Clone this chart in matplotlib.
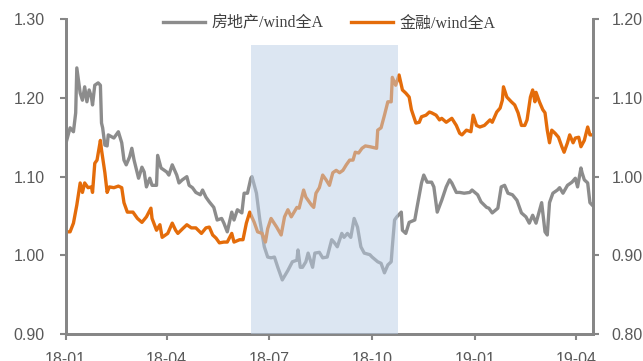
import matplotlib
matplotlib.use('Agg')
import matplotlib.pyplot as plt
import matplotlib.dates as mdates
import pandas as pd

# 房地产/wind全A (left axis)
re_dates = ['2018-01-02', '2018-01-05', '2018-01-08', '2018-01-10', '2018-01-11', '2018-01-14',
            '2018-01-16', '2018-01-18', '2018-01-20', '2018-01-22', '2018-01-24', '2018-01-25',
            '2018-01-27', '2018-01-30', '2018-02-01', '2018-02-02', '2018-02-03', '2018-02-05',
            '2018-02-07', '2018-02-08', '2018-02-13', '2018-02-17', '2018-02-20', '2018-02-22',
            '2018-02-24', '2018-02-27', '2018-03-01', '2018-03-03', '2018-03-07', '2018-03-10',
            '2018-03-12', '2018-03-14', '2018-03-17', '2018-03-19', '2018-03-23', '2018-03-24',
            '2018-03-27', '2018-04-01', '2018-04-03', '2018-04-06', '2018-04-10', '2018-04-12',
            '2018-04-15', '2018-04-19', '2018-04-21', '2018-04-24', '2018-04-27', '2018-05-01',
            '2018-05-03', '2018-05-06', '2018-05-09', '2018-05-13', '2018-05-16', '2018-05-20',
            '2018-05-22', '2018-05-25', '2018-05-29', '2018-05-31', '2018-06-03', '2018-06-07',
            '2018-06-09', '2018-06-12', '2018-06-15', '2018-06-16', '2018-06-20', '2018-06-23',
            '2018-06-27', '2018-06-30', '2018-07-03', '2018-07-06', '2018-07-09', '2018-07-13',
            '2018-07-18', '2018-07-22', '2018-07-26', '2018-07-27', '2018-07-29', '2018-07-31',
            '2018-08-03', '2018-08-05', '2018-08-09', '2018-08-11', '2018-08-15', '2018-08-18',
            '2018-08-22', '2018-08-26', '2018-08-28', '2018-08-31', '2018-09-04', '2018-09-06',
            '2018-09-09', '2018-09-12', '2018-09-15', '2018-09-18', '2018-09-21', '2018-09-24',
            '2018-09-29', '2018-10-01', '2018-10-06', '2018-10-09', '2018-10-12', '2018-10-15',
            '2018-10-18', '2018-10-19', '2018-10-21', '2018-10-23', '2018-10-27', '2018-10-28',
            '2018-10-31', '2018-11-03', '2018-11-08', '2018-11-10', '2018-11-14', '2018-11-16',
            '2018-11-19', '2018-11-23', '2018-11-25', '2018-11-28', '2018-12-02', '2018-12-06',
            '2018-12-09', '2018-12-11', '2018-12-15', '2018-12-18', '2018-12-22', '2018-12-27',
            '2018-12-29', '2019-01-03', '2019-01-06', '2019-01-11', '2019-01-13', '2019-01-16',
            '2019-01-21', '2019-01-24', '2019-01-27', '2019-01-30', '2019-02-03', '2019-02-07',
            '2019-02-11', '2019-02-15', '2019-02-18', '2019-02-21', '2019-02-24', '2019-03-01',
            '2019-03-04', '2019-03-06', '2019-03-08', '2019-03-11', '2019-03-15', '2019-03-17',
            '2019-03-20', '2019-03-24', '2019-03-28', '2019-03-31', '2019-04-02', '2019-04-05',
            '2019-04-06', '2019-04-08', '2019-04-11', '2019-04-13', '2019-04-15']
re_vals = [1.146, 1.162, 1.157, 1.181, 1.238, 1.206, 1.197, 1.214, 1.195, 1.210, 1.201, 1.191,
           1.216, 1.219, 1.216, 1.168, 1.162, 1.140, 1.139, 1.153, 1.149, 1.157, 1.143, 1.121,
           1.115, 1.125, 1.136, 1.121, 1.098, 1.112, 1.106, 1.087, 1.098, 1.089, 1.089, 1.127,
           1.111, 1.106, 1.102, 1.115, 1.102, 1.092, 1.096, 1.100, 1.089, 1.086, 1.080, 1.077,
           1.083, 1.074, 1.068, 1.061, 1.045, 1.047, 1.041, 1.030, 1.055, 1.045, 1.058, 1.054,
           1.079, 1.079, 1.098, 1.100, 1.079, 1.045, 1.011, 0.998, 0.997, 0.998, 0.985, 0.969,
           0.981, 0.992, 0.994, 1.007, 0.985, 0.985, 0.992, 1.003, 0.985, 1.003, 1.004, 0.997,
           0.998, 1.020, 1.017, 1.011, 1.028, 1.023, 1.028, 1.023, 1.047, 1.036, 1.011, 1.003,
           1.001, 0.998, 0.992, 0.990, 0.978, 0.988, 0.992, 1.011, 1.045, 1.049, 1.055, 1.032,
           1.028, 1.042, 1.045, 1.061, 1.092, 1.102, 1.093, 1.093, 1.087, 1.055, 1.070, 1.087,
           1.096, 1.092, 1.080, 1.080, 1.079, 1.080, 1.083, 1.077, 1.068, 1.061, 1.060, 1.054,
           1.060, 1.087, 1.089, 1.079, 1.077, 1.070, 1.054, 1.049, 1.041, 1.051, 1.041, 1.067,
           1.030, 1.026, 1.067, 1.079, 1.083, 1.086, 1.079, 1.089, 1.093, 1.098, 1.087, 1.111,
           1.105, 1.096, 1.092, 1.067, 1.064]

# 金融/wind全A (right axis)
fin_dates = ['2018-01-02', '2018-01-05', '2018-01-08', '2018-01-11', '2018-01-14', '2018-01-16',
             '2018-01-18', '2018-01-21', '2018-01-24', '2018-01-25', '2018-01-27', '2018-01-29',
             '2018-02-01', '2018-02-02', '2018-02-05', '2018-02-07', '2018-02-09', '2018-02-13',
             '2018-02-17', '2018-02-20', '2018-02-22', '2018-02-25', '2018-03-02', '2018-03-06',
             '2018-03-10', '2018-03-14', '2018-03-18', '2018-03-19', '2018-03-23', '2018-03-26',
             '2018-03-28', '2018-04-02', '2018-04-06', '2018-04-09', '2018-04-11', '2018-04-16',
             '2018-04-19', '2018-04-23', '2018-04-27', '2018-05-02', '2018-05-06', '2018-05-09',
             '2018-05-12', '2018-05-15', '2018-05-18', '2018-05-22', '2018-05-25', '2018-05-29',
             '2018-05-31', '2018-06-05', '2018-06-08', '2018-06-11', '2018-06-14', '2018-06-18',
             '2018-06-21', '2018-06-25', '2018-06-28', '2018-06-30', '2018-07-03', '2018-07-08',
             '2018-07-12', '2018-07-15', '2018-07-18', '2018-07-21', '2018-07-26', '2018-07-28',
             '2018-08-01', '2018-08-03', '2018-08-08', '2018-08-10', '2018-08-12', '2018-08-15',
             '2018-08-18', '2018-08-21', '2018-08-24', '2018-08-27', '2018-08-30', '2018-09-02',
             '2018-09-05', '2018-09-08', '2018-09-11', '2018-09-14', '2018-09-16', '2018-09-19',
             '2018-09-22', '2018-09-25', '2018-09-29', '2018-10-05', '2018-10-06', '2018-10-09',
             '2018-10-12', '2018-10-15', '2018-10-18', '2018-10-19', '2018-10-21', '2018-10-22',
             '2018-10-25', '2018-10-28', '2018-10-31', '2018-11-03', '2018-11-05', '2018-11-09',
             '2018-11-12', '2018-11-14', '2018-11-18', '2018-11-21', '2018-11-23', '2018-11-27',
             '2018-11-30', '2018-12-02', '2018-12-06', '2018-12-09', '2018-12-11', '2018-12-15',
             '2018-12-18', '2018-12-20', '2018-12-24', '2018-12-28', '2018-12-30', '2019-01-02',
             '2019-01-05', '2019-01-09', '2019-01-14', '2019-01-16', '2019-01-20', '2019-01-23',
             '2019-01-25', '2019-01-26', '2019-01-29', '2019-02-02', '2019-02-05', '2019-02-08',
             '2019-02-11', '2019-02-14', '2019-02-16', '2019-02-19', '2019-02-21', '2019-02-23',
             '2019-02-24', '2019-02-27', '2019-03-02', '2019-03-04', '2019-03-06', '2019-03-08',
             '2019-03-10', '2019-03-13', '2019-03-16', '2019-03-19', '2019-03-21', '2019-03-24',
             '2019-03-26', '2019-03-29', '2019-03-31', '2019-04-03', '2019-04-05', '2019-04-08',
             '2019-04-11', '2019-04-13', '2019-04-15']
fin_vals = [0.930, 0.930, 0.941, 0.964, 0.992, 0.980, 0.992, 0.986, 0.987, 0.980, 1.017, 1.021,
            1.046, 1.034, 1.005, 0.980, 0.987, 0.986, 0.988, 0.986, 0.967, 0.955, 0.955, 0.947,
            0.942, 0.949, 0.960, 0.947, 0.932, 0.939, 0.923, 0.928, 0.941, 0.932, 0.928, 0.935,
            0.939, 0.935, 0.935, 0.928, 0.935, 0.936, 0.926, 0.922, 0.916, 0.917, 0.917, 0.928,
            0.917, 0.920, 0.920, 0.941, 0.955, 0.942, 0.930, 0.928, 0.917, 0.934, 0.947, 0.936,
            0.926, 0.949, 0.958, 0.949, 0.961, 0.960, 0.983, 0.974, 0.964, 0.961, 0.979, 0.986,
            1.002, 0.996, 0.989, 1.005, 1.008, 1.005, 1.008, 1.015, 1.021, 1.021, 1.031, 1.030,
            1.036, 1.039, 1.038, 1.036, 1.059, 1.062, 1.078, 1.095, 1.095, 1.126, 1.119, 1.116,
            1.129, 1.110, 1.106, 1.101, 1.085, 1.068, 1.069, 1.076, 1.078, 1.082, 1.081, 1.078,
            1.072, 1.074, 1.069, 1.072, 1.074, 1.065, 1.055, 1.053, 1.059, 1.057, 1.078, 1.065,
            1.063, 1.065, 1.072, 1.069, 1.082, 1.087, 1.097, 1.114, 1.101, 1.095, 1.091, 1.081,
            1.065, 1.065, 1.072, 1.101, 1.110, 1.095, 1.107, 1.095, 1.085, 1.081, 1.059, 1.043,
            1.059, 1.055, 1.050, 1.038, 1.031, 1.043, 1.053, 1.043, 1.049, 1.050, 1.038, 1.046,
            1.063, 1.053, 1.053]

y_left_ticks = [0.90, 1.00, 1.10, 1.20, 1.30]
y_right_ticks = [0.80, 0.90, 1.00, 1.10, 1.20]
shade_start, shade_end = '2018-06-15', '2018-10-24'

GRAY = '#8c8c8c'
ORANGE = '#e46c0a'
AXIS = '#868686'
LABEL = '#595959'

plt.rcParams['font.family'] = ['Liberation Sans', 'DejaVu Sans']

fig = plt.figure(figsize=(6.43, 3.61), dpi=100)
ax = fig.add_axes([0.102, 0.074, 0.8207, 0.8733])
ax2 = ax.twinx()

ax.plot(pd.to_datetime(re_dates), re_vals, color=GRAY, lw=2.4, label='房地产/wind全A')
ax2.plot(pd.to_datetime(fin_dates), fin_vals, color=ORANGE, lw=2.4, label='金融/wind全A')
ax2.axvspan(pd.Timestamp(shade_start), pd.Timestamp(shade_end), ymin=0, ymax=0.917,
            color='#bbcfe7', alpha=0.5, lw=0, zorder=5)

ax.set_xlim(pd.Timestamp('2018-01-01'), pd.Timestamp('2019-04-16'))
ax.set_ylim(0.90, 1.30)
ax2.set_ylim(0.80, 1.20)
ax.set_yticks(y_left_ticks)
ax2.set_yticks(y_right_ticks)
ax.yaxis.set_major_formatter(plt.FormatStrFormatter('%.2f'))
ax2.yaxis.set_major_formatter(plt.FormatStrFormatter('%.2f'))
ax.xaxis.set_major_locator(mdates.MonthLocator(bymonth=[1, 4, 7, 10]))
ax.xaxis.set_major_formatter(mdates.DateFormatter('%y-%m'))

for a in (ax, ax2):
    a.spines['top'].set_visible(False)
    for s in ('left', 'right', 'bottom'):
        a.spines[s].set_color(AXIS)
        a.spines[s].set_linewidth(2)
    a.tick_params(colors=AXIS, labelcolor=LABEL, labelsize=11.5, width=1.5, length=4)
ax.tick_params(axis='y', pad=11)
ax2.tick_params(axis='y', pad=9)
ax.tick_params(axis='x', pad=9)

h1, l1 = ax.get_legend_handles_labels()
h2, l2 = ax2.get_legend_handles_labels()
leg = ax2.legend(h1 + h2, l1 + l2, loc='center', bbox_to_anchor=(0.5, 0.985), ncol=2,
                 frameon=False, handlelength=2.6, columnspacing=1.7, handletextpad=0.45,
                 prop={'family': ['Liberation Serif', 'Noto Sans CJK SC'], 'size': 11.5})
for t in leg.get_texts():
    t.set_color('#404040')

fig.savefig('out.png', dpi=100)
